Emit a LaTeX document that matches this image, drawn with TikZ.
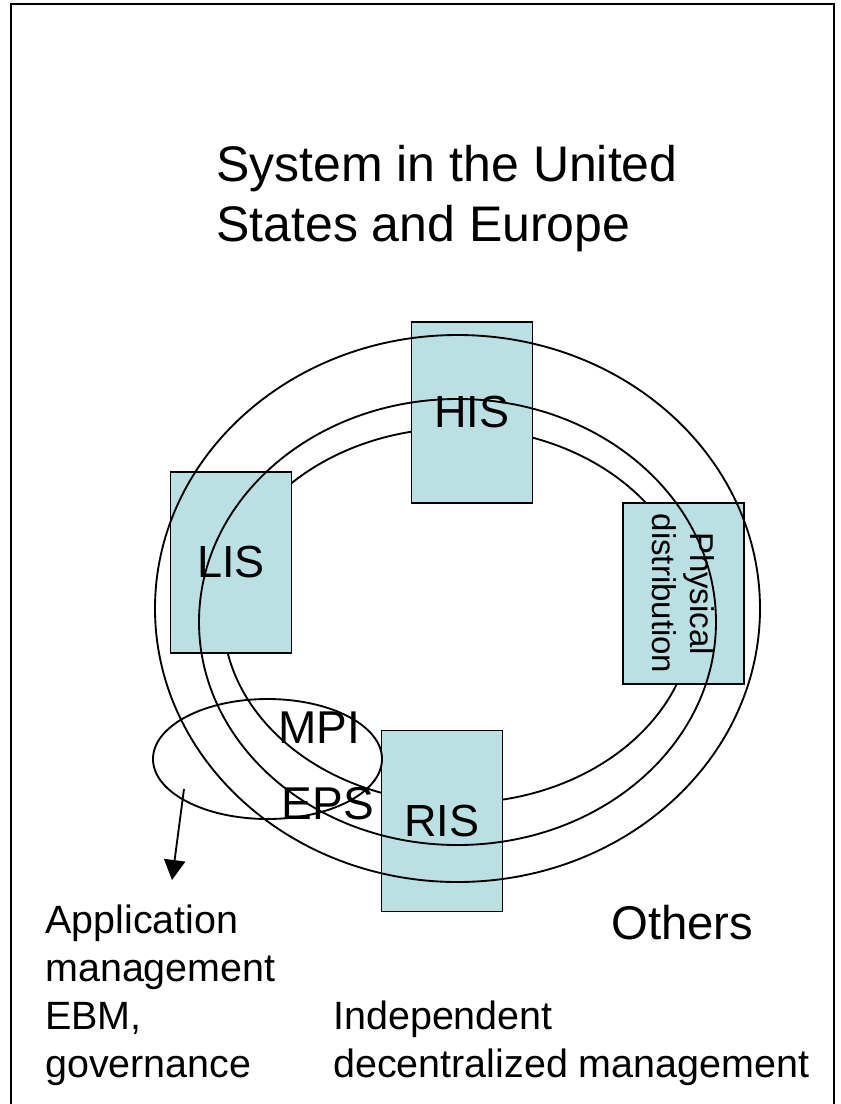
\documentclass[tikz,border=0pt]{standalone}
\usepackage{fontspec}
\setmainfont{Liberation Sans}
\usepackage{tikz}
\usetikzlibrary{shapes, arrows.meta}
\definecolor{boxfill}{RGB}{187,224,227}
\tikzset{sysbox/.style={draw, rectangle, fill=boxfill, line width=1.4pt,
 minimum width=90.75pt, minimum height=135.75pt, inner sep=0pt,
 font=\fontsize{33.75}{40}\selectfont},
 ring/.style={draw, ellipse, line width=1.4pt, inner sep=0pt},
 txt/.style={anchor=north west, align=left, inner sep=0pt}}
\newcommand*{\fs}[2]{\fontsize{#1}{#2}\selectfont}

\begin{document}
\begin{tikzpicture}[x=0.75pt, y=-0.75pt]
 \useasboundingbox (0,0) rectangle (840,1104);
 \draw[line width=1.4pt] (11,4) rectangle (834,1106);
 \node[txt, font=\fs{37.5}{45}] (title) at (216,145) {System in the United\\States and Europe};
 \node[ring, minimum width=352.5pt, minimum height=281.25pt] (inner) at (458,615.5) {};
 \node[sysbox] (his) at (472,412.5) {HIS};
 \node[sysbox] (lis) at (231,562.5) {LIS};
 \node[sysbox] (ris) at (442,821) {RIS};
 \node[sysbox, rotate=-90, minimum width=135.75pt, minimum height=90.75pt, align=center, font=\fs{24.75}{28.5}] (phys) at (683.5,593.5) {Physical\\distribution};
 \node[ring, minimum width=453.75pt, minimum height=410.25pt] (outer) at (457.5,608.5) {};
 \node[ring, minimum width=387.75pt, minimum height=334.5pt] (middle) at (457.5,622) {};
 \node[ring, minimum width=171.75pt, minimum height=90pt] (share) at (267.5,759) {};
 \node[inner sep=0pt, font=\fs{34.5}{40}] (mpi) at (319,728) {MPI};
 \node[inner sep=0pt, font=\fs{34.5}{40}] (eps) at (328,804) {EPS};
 \coordinate (tail) at (184,789);
 \coordinate (tip) at (172,880);
 \draw[line width=1.4pt, -{Triangle[width=16pt, length=15pt]}] (tail) -- (tip);
 \node[txt, font=\fs{29.6}{35.8}] (app) at (45,905) {Application\\management\\EBM,\\governance};
 \node[txt, font=\fs{35.5}{40}] (others) at (611,905) {Others};
 \node[txt, font=\fs{29.6}{35.8}] (indep) at (333,1001) {Independent\\decentralized management};
\end{tikzpicture}
\end{document}
